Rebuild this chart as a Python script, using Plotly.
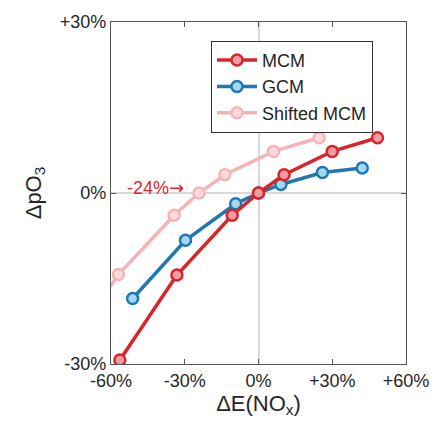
import plotly.graph_objects as go

# Data (percent changes)
mcm_x = [-56.4, -33.2, -10.7, 0.0, 10.4, 30.0, 48.4]
mcm_y = [-29.3, -14.4, -3.9, 0.0, 3.2, 7.3, 9.7]

gcm_x = [-51.2, -29.7, -9.3, 0.0, 9.1, 26.0, 42.2]
gcm_y = [-18.5, -8.3, -1.9, 0.0, 1.5, 3.6, 4.4]

shifted_x = [-80.4, -57.0, -34.3, -24.2, -13.7, 6.1, 24.7]
shifted_y = [-29.3, -14.3, -3.9, 0.0, 3.2, 7.3, 9.7]

x_ticks = [-60, -30, 0, 30, 60]
x_labels = ["-60%", "-30%", "0%", "+30%", "+60%"]
y_ticks = [-30, 0, 30]
y_labels = ["-30%", "0%", "+30%"]

FONT = "Liberation Sans, Arial, sans-serif"
TXT = "#262626"

fig = go.Figure()

fig.add_trace(go.Scatter(
    x=shifted_x, y=shifted_y, mode="lines+markers", name="Shifted MCM",
    legendrank=3,
    line=dict(color="#f6b3b7", width=3.5),
    marker=dict(size=11, color="#fcdadd", line=dict(color="#f6b3b7", width=2.5)),
))
fig.add_trace(go.Scatter(
    x=gcm_x, y=gcm_y, mode="lines+markers", name="GCM",
    legendrank=2,
    line=dict(color="#1f77b4", width=3.5),
    marker=dict(size=11, color="#a3d9ee", line=dict(color="#1f77b4", width=2.5)),
))
fig.add_trace(go.Scatter(
    x=mcm_x, y=mcm_y, mode="lines+markers", name="MCM",
    legendrank=1,
    line=dict(color="#d7262b", width=3.5),
    marker=dict(size=11, color="#ef9da3", line=dict(color="#d7262b", width=2.5)),
))

fig.add_annotation(
    x=-29.4, y=1.0, xref="x", yref="y",
    text="-24%<span style=\"font-family:'DejaVu Sans'\">→</span>", showarrow=False,
    xanchor="right", yanchor="middle",
    font=dict(family=FONT, size=18, color="#e0262b"),
)

axis_common = dict(
    showgrid=False, zeroline=True, zerolinecolor="#d9d9d9", zerolinewidth=1.5,
    showline=True, linecolor="#555555", linewidth=1.2, mirror="ticks",
    ticks="inside", ticklen=5, tickcolor="#555555", tickwidth=1.2,
    tickfont=dict(family=FONT, size=18, color=TXT),
)

fig.update_layout(
    width=441, height=427,
    margin=dict(l=111, r=26, t=19, b=63),
    paper_bgcolor="white", plot_bgcolor="white",
    font=dict(family=FONT, color=TXT),
    xaxis=dict(range=[-60, 60], tickvals=x_ticks, ticktext=x_labels,
               title=dict(text="ΔE(NO<sub>x</sub>)", font=dict(family=FONT, size=22, color=TXT), standoff=2),
               **axis_common),
    yaxis=dict(range=[-30, 30], tickvals=y_ticks, ticktext=y_labels,
               title=dict(text="ΔpO<sub>3</sub>", font=dict(family=FONT, size=22, color=TXT), standoff=12),
               **axis_common),
    legend=dict(x=0.339, y=0.945, xanchor="left", yanchor="top",
                bgcolor="white", bordercolor="#333333", borderwidth=1,
                font=dict(family=FONT, size=18, color=TXT),
                tracegroupgap=0, itemwidth=40),
    showlegend=True,
)

fig.write_html("out.html")
